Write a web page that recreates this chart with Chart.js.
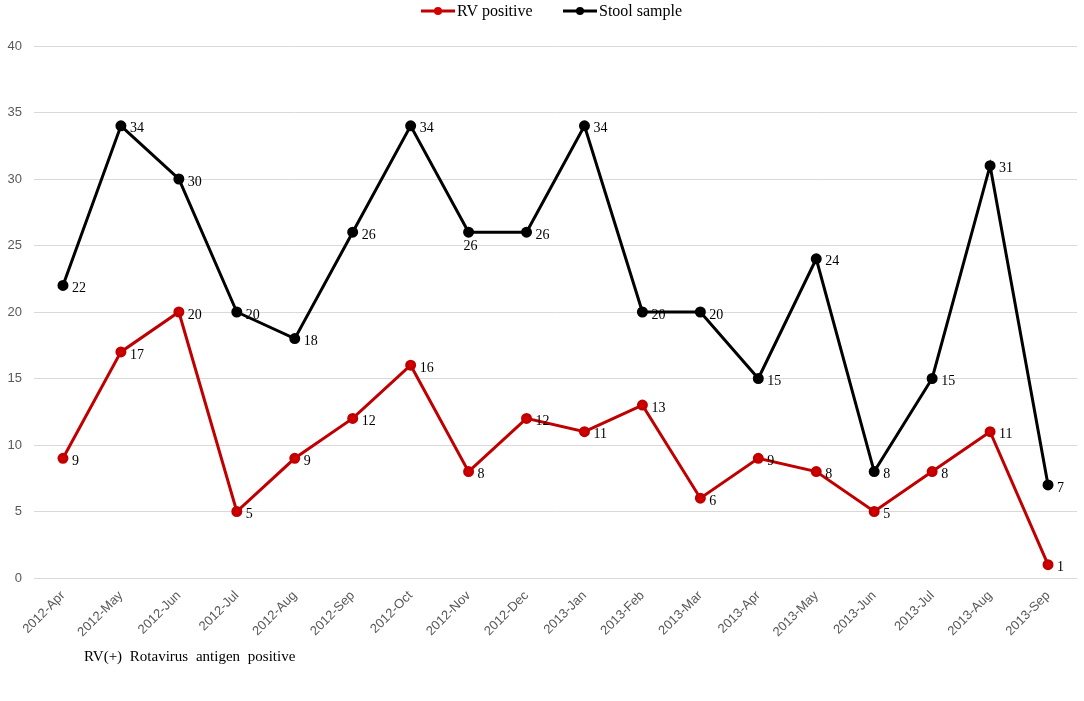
<!DOCTYPE html>
<html lang="en">
<head>
    <meta charset="utf-8">
    <title>RV positive and stool samples by month</title>
    <script src="https://cdn.jsdelivr.net/npm/chart.js"></script>
    <style>
        html, body { margin: 0; padding: 0; background: #fff; }
        #wrap { position: relative; width: 1084px; height: 701px; }
        #note {
            position: absolute; left: 84px; top: 648px;
            font-family: "Liberation Serif", "Times New Roman", serif;
            font-size: 15px; color: #000; word-spacing: 4px;
        }
    </style>
</head>
<body>
<div id="wrap">
    <canvas id="chart" width="1084" height="701"></canvas>
    <div id="note">RV(+) Rotavirus antigen positive</div>
</div>

<script>
    // data
    const months = ['2012-Apr', '2012-May', '2012-Jun', '2012-Jul', '2012-Aug', '2012-Sep',
        '2012-Oct', '2012-Nov', '2012-Dec', '2013-Jan', '2013-Feb', '2013-Mar',
        '2013-Apr', '2013-May', '2013-Jun', '2013-Jul', '2013-Aug', '2013-Sep'];
    const rvPositive = [9, 17, 20, 5, 9, 12, 16, 8, 12, 11, 13, 6, 9, 8, 5, 8, 11, 1];
    const stoolSample = [22, 34, 30, 20, 18, 26, 34, 26, 26, 34, 20, 20, 15, 24, 8, 15, 31, 7];
    const yTicks = [0, 5, 10, 15, 20, 25, 30, 35, 40];

    const serif = '"Liberation Serif", "Times New Roman", serif';
    const sans = '"Liberation Sans", Arial, sans-serif';

    // labels put under the point instead of to the right (dataset, index)
    const labelsBelow = [[1, 7]];

    const pointLabels = {
        id: 'pointLabels',
        afterDatasetsDraw(chart) {
            const ctx = chart.ctx;
            ctx.save();
            ctx.font = '14px ' + serif;
            ctx.fillStyle = '#000';
            ctx.textBaseline = 'middle';
            chart.data.datasets.forEach((ds, di) => {
                chart.getDatasetMeta(di).data.forEach((pt, i) => {
                    const below = labelsBelow.some(b => b[0] === di && b[1] === i);
                    if (below) {
                        ctx.textAlign = 'center';
                        ctx.fillText(ds.data[i], pt.x + 2, pt.y + 14);
                    } else {
                        ctx.textAlign = 'left';
                        ctx.fillText(ds.data[i], pt.x + 9, pt.y + 3);
                    }
                });
            });
            ctx.restore();
        }
    };

    // legend: line with a dot, then the name
    const lineLegend = {
        id: 'lineLegend',
        afterDraw(chart) {
            const ctx = chart.ctx;
            const items = [
                { x: 421, text: 'RV positive', color: '#c00000', dot: '#d40000' },
                { x: 563, text: 'Stool sample', color: '#000', dot: '#000' }
            ];
            ctx.save();
            ctx.font = '16px ' + serif;
            ctx.textBaseline = 'middle';
            ctx.textAlign = 'left';
            items.forEach(it => {
                const y = 11;
                ctx.strokeStyle = it.color;
                ctx.lineWidth = 3;
                ctx.beginPath();
                ctx.moveTo(it.x, y);
                ctx.lineTo(it.x + 34, y);
                ctx.stroke();
                ctx.fillStyle = it.dot;
                ctx.beginPath();
                ctx.arc(it.x + 17, y, 4, 0, Math.PI * 2);
                ctx.fill();
                ctx.fillStyle = '#000';
                ctx.fillText(it.text, it.x + 36, y + 1);
            });
            ctx.restore();
        }
    };

    new Chart(document.getElementById('chart'), {
        type: 'line',
        data: {
            labels: months,
            datasets: [{
                label: 'RV positive',
                data: rvPositive,
                borderColor: '#c00000',
                backgroundColor: '#d40000',
                pointBackgroundColor: '#d40000',
                pointBorderColor: '#c00000',
                borderWidth: 3,
                pointRadius: 4,
                tension: 0
            }, {
                label: 'Stool sample',
                data: stoolSample,
                borderColor: '#000',
                backgroundColor: '#000',
                pointBackgroundColor: '#000',
                pointBorderColor: '#000',
                borderWidth: 3,
                pointRadius: 4,
                tension: 0
            }]
        },
        options: {
            responsive: false,
            animation: false,
            layout: { padding: { top: 46, right: 3, left: 0, bottom: 0 } },
            plugins: {
                legend: { display: false },
                tooltip: { enabled: false }
            },
            scales: {
                x: {
                    offset: true,
                    grid: { display: false },
                    border: { display: false },
                    ticks: {
                        color: '#595959',
                        font: { family: sans, size: 13 },
                        maxRotation: 45,
                        minRotation: 45,
                        autoSkip: false,
                        padding: 2
                    },
                    afterFit(scale) { scale.height = 123; }
                },
                y: {
                    min: 0,
                    max: 40,
                    afterBuildTicks(scale) { scale.ticks = yTicks.map(v => ({ value: v })); },
                    grid: { color: '#d9d9d9', lineWidth: 1, drawTicks: false },
                    border: { display: false },
                    ticks: {
                        color: '#595959',
                        font: { family: sans, size: 13 },
                        padding: 12
                    },
                    afterFit(scale) { scale.width = 34; }
                }
            }
        },
        plugins: [pointLabels, lineLegend]
    });
</script>
</body>
</html>
